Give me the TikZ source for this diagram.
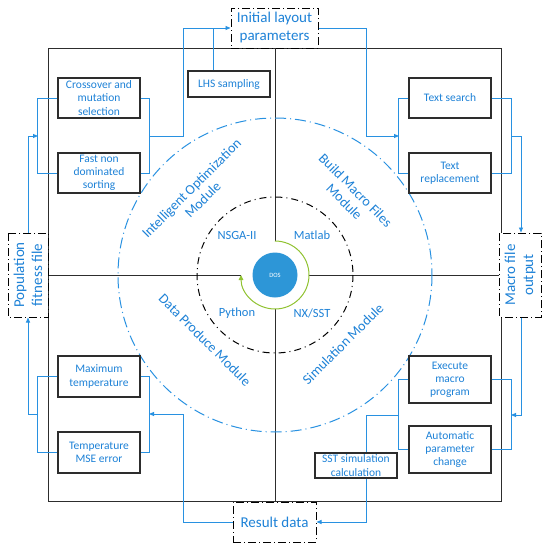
\documentclass[tikz,border=0pt]{standalone}
\usepackage{fontspec}
\setmainfont{Carlito}
\usetikzlibrary{arrows.meta}
\definecolor{tblue}{RGB}{30,130,215}
\definecolor{lblue}{RGB}{40,145,225}
\definecolor{cblue}{RGB}{45,150,215}
\definecolor{agreen}{RGB}{145,195,50}
\definecolor{frame}{RGB}{45,45,45}
\begin{document}
\begin{tikzpicture}[x=1pt,y=-1pt,
  box/.style={draw=frame, line width=1.1pt, fill=white, text=tblue, align=center,
    font=\fontsize{11.5}{13.2}\selectfont, inner sep=0pt, minimum width=82pt},
  dbox/.style={draw=black, line width=1pt, fill=white, text=tblue, align=center,
    font=\fontsize{15}{18}\selectfont, inner sep=0pt, dash pattern=on 8pt off 3pt on 1pt off 3pt},
  conn/.style={draw=lblue, line width=0.9pt},
  arr/.style={conn, -{Triangle[length=5pt,width=4pt]}},
  modlabel/.style={text=tblue, align=center, font=\fontsize{14}{16}\selectfont},
  toollabel/.style={text=tblue, font=\fontsize{12.5}{14}\selectfont},
  frameline/.style={draw=frame, line width=1pt}
]
\useasboundingbox (0,0) rectangle (550,549);
\fill[white] (0,0) rectangle (550,549);

% outer square and cross
\draw[frameline] (48,48) rectangle (501,501);
\draw[frameline] (48,275) -- (241,275);
\draw[frameline] (309,275) -- (501,275);
\draw[frameline] (275,48) -- (275,241);
\draw[frameline] (275,309) -- (275,501);

% circles
\draw[lblue, line width=1pt, dash pattern=on 11pt off 4pt on 1pt off 4pt] (275,275) circle[radius=157];
\draw[black, line width=1pt, dash pattern=on 7pt off 4pt on 1pt off 4pt] (275,275) circle[radius=78];
\node[circle, fill=cblue, minimum size=45pt, inner sep=0pt, text=white, font=\fontsize{6.5}{7}\selectfont] (dos) at (275,275) {DOS};
\draw[agreen, line width=1pt, -{Triangle[length=5pt,width=4.5pt]}] (275,241) arc[start angle=-90, end angle=180, radius=34];

% tool labels
\node[toollabel] (nsga) at (237,235) {NSGA-II};
\node[toollabel] (matlab) at (312,235) {Matlab};
\node[toollabel] (python) at (237,313) {Python};
\node[toollabel] (nxsst) at (312,313) {NX/SST};

% module labels
\node[modlabel, rotate=45] (iom) at (197,194) {Intelligent Optimization\\Module};
\node[modlabel, rotate=-45] (bmf) at (350,196) {Build Macro Files\\Module};
\node[modlabel, rotate=-45] (dpm) at (205,340) {Data Produce Module};
\node[modlabel, rotate=45] (sim) at (343,344) {Simulation Module};

% dashed io boxes
\node[dbox, minimum width=87pt, minimum height=40pt] (init) at (274.5,28) {Initial layout\\parameters};
\node[dbox, minimum width=84pt, minimum height=40pt, rotate=90] (pop) at (28,275) {Population\\fitness file};
\node[dbox, minimum width=84pt, minimum height=42pt, rotate=90] (macro) at (520,275) {Macro file\\output};
\node[dbox, minimum width=83pt, minimum height=40pt] (result) at (274.5,522) {Result data};

% inner boxes
\node[box, minimum height=40pt] (cross) at (99,98) {Crossover and\\mutation\\selection};
\node[box, minimum height=40pt] (fast) at (99,173) {Fast non\\dominated\\sorting};
\node[box, minimum height=26pt] (lhs) at (229,84) {LHS sampling};
\node[box, minimum height=40pt] (tsearch) at (450,98) {Text search};
\node[box, minimum height=40pt] (trepl) at (450,173) {Text\\replacement};
\node[box, minimum height=41pt] (maxT) at (99,376.5) {Maximum\\temperature};
\node[box, minimum height=41pt] (mse) at (99,452.5) {Temperature\\MSE error};
\node[box, minimum height=47pt] (exec) at (450,379.5) {Execute\\macro\\program};
\node[box, minimum height=47pt] (auto) at (450,449.5) {Automatic\\parameter\\change};
\node[box, minimum height=25pt] (sst) at (356,465.5) {SST simulation\\calculation};

% connector junctions
\coordinate (j1) at (38,136);
\coordinate (j2) at (149,136);
\coordinate (k2) at (183,28);
\coordinate (k3) at (213,28);
\coordinate (k4) at (366,28);
\coordinate (j3) at (399,136);
\coordinate (j4) at (511,136);
\coordinate (j5) at (511,415);
\coordinate (j6) at (399,415);
\coordinate (k6) at (366,415);
\coordinate (k7) at (183,414);
\coordinate (j7) at (149,414);
\coordinate (j8) at (38,414);

% top-left group
\draw[conn] (cross.west) -- ++(-20,0) |- (fast.west);
\draw[conn] (cross.east) -- ++(9,0) |- (fast.east);
\draw[arr] (pop.east) |- (j1);
\draw[arr] (j2) -| (k2) -- (init.west);
\draw[conn] (lhs.north -| k3) -- (k3);

% top-right group
\draw[arr] (init.east) -| (k4 |- j3) -- (j3);
\draw[conn] (tsearch.west) -- ++(-10,0) |- (trepl.west);
\draw[conn] (tsearch.east) -- ++(20,0) |- (trepl.east);
\draw[arr] (j4) -| (macro.north east -| 521,0) ;

% bottom-right group
\draw[arr] (macro.west -| 521,0) |- (j5);
\draw[conn] (exec.west) -- ++(-10,0) |- (auto.west);
\draw[conn] (exec.east) -- ++(20,0) |- (auto.east);
\draw[conn] (j6) -- (k6) -- (k6 |- sst.north);
\draw[arr] (k6 |- sst.south) |- (result.east);

% bottom-left group
\draw[arr] (result.west) -| (k7) -- (j7);
\draw[conn] (maxT.east) -- ++(9,0) |- (mse.east);
\draw[conn] (maxT.west) -- ++(-20,0) |- (mse.west);
\draw[arr] (j8) -| (pop.west);
\end{tikzpicture}
\end{document}
